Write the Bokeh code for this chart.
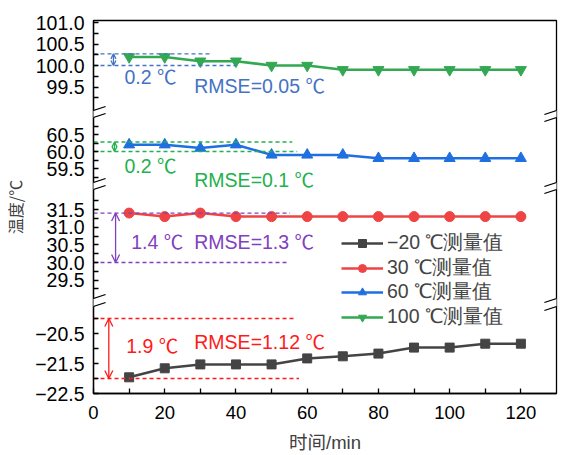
from bokeh.plotting import figure
from bokeh.models import (Range1d, FixedTicker, Arrow, OpenHead, PolyAnnotation,
                          Label, Legend, LegendItem)
from bokeh.embed import file_html
from bokeh.resources import INLINE

# ---------------- data ----------------
time_min = [10, 20, 30, 40, 50, 60, 70, 80, 90, 100, 110, 120]
temp_m20 = [-21.96, -21.66, -21.53, -21.53, -21.53, -21.33, -21.26, -21.17, -20.97, -20.97, -20.84, -20.84]
temp_30 = [31.4, 31.3, 31.4, 31.3, 31.3, 31.3, 31.3, 31.3, 31.3, 31.3, 31.3, 31.3]
temp_60 = [60.2, 60.2, 60.1, 60.2, 59.9, 59.9, 59.9, 59.8, 59.8, 59.8, 59.8, 59.8]
temp_100 = [100.2, 100.2, 100.1, 100.1, 100.0, 100.0, 99.9, 99.9, 99.9, 99.9, 99.9, 99.9]
series_labels = ["−20 ℃测量值", "30 ℃测量值", "60 ℃测量值", "100 ℃测量值"]

x_ticks = [0, 20, 40, 60, 80, 100, 120]
x_minor_ticks = [10, 30, 50, 70, 90, 110]
x_title = "时间/min"
y_title = "温度/℃"

ticks_100 = [99.25, 99.5, 99.75, 100.0, 100.25, 100.5, 100.75, 101.0]
labels_100 = ["99.5", "100.0", "100.5", "101.0"]
ticks_60 = [59.25, 59.5, 59.75, 60.0, 60.25, 60.5, 60.75]
labels_60 = ["59.5", "60.0", "60.5"]
ticks_30 = [29.25, 29.5, 29.75, 30.0, 30.25, 30.5, 30.75, 31.0, 31.25, 31.5, 31.75]
labels_30 = ["29.5", "30.0", "30.5", "31.0", "31.5"]
ticks_m20 = [-22.5, -22.0, -21.5, -21.0, -20.5, -20.0]
labels_m20 = ["-22.5", "-21.5", "-20.5"]

# deviation bands (reference dashed lines) per segment
band_low = [100.0, 60.0, 30.0, -22.0]
band_high = [100.27, 60.28, 31.4, -20.0]
band_text = ["0.2 ℃", "0.2 ℃", "1.4 ℃", "1.9 ℃"]
rmse_text = ["RMSE=0.05 ℃", "RMSE=0.1 ℃", "RMSE=1.3 ℃", "RMSE=1.12 ℃"]

# ---------------- layout / style ----------------
W, H = 565, 455
FL, FR, FT, FB = 92, 9, 20, 62
FH = H - FT - FB  # 373
LATIN = "Liberation Sans"
MIXED = "'Liberation Sans', 'Noto Sans CJK SC'"
CJK = "'Noto Sans CJK SC'"
FS = "19.5px"

seg_names = ["s100", "s60", "s30", "sm20"]
seg_anchor = {"s100": 100.0, "s60": 60.0, "s30": 30.0, "sm20": -22.5}
seg_px = {"s100": 65, "s60": 151, "s30": 262, "sm20": 393}
seg_ppu = {"s100": 43.0, "s60": 34.0, "s30": 35.3, "sm20": 30.0}
gap_px = [(110, 117), (182, 189), (298, 306)]

def v_anchor(s):
    return (FT + FH) - seg_px[s]

p = figure(width=W, height=H, output_backend="svg", toolbar_location=None,
           x_range=Range1d(0, 130), y_range=Range1d(0, FH),
           min_border_left=FL, min_border_right=FR, min_border_top=FT, min_border_bottom=FB)
p.xgrid.visible = False
p.ygrid.visible = False
p.outline_line_color = "black"
p.outline_line_width = 1.3
p.background_fill_color = "white"
p.border_fill_color = "white"

ranges = {}
for s in seg_names:
    va = v_anchor(s)
    ranges[s] = Range1d(start=seg_anchor[s] - va / seg_ppu[s],
                        end=seg_anchor[s] + (FH - va) / seg_ppu[s])
p.extra_y_ranges = ranges

# ----- left axis (broken) -----
seg_ticks = {"s100": (ticks_100, labels_100), "s60": (ticks_60, labels_60),
             "s30": (ticks_30, labels_30), "sm20": (ticks_m20, labels_m20)}
vt = []
overrides = {}
for s in seg_names:
    tks, lbls = seg_ticks[s]
    for t in tks:
        v = round(v_anchor(s) + (t - seg_anchor[s]) * seg_ppu[s], 3)
        vt.append(v)
        txt = f"{t:.1f}"
        overrides[v] = txt.replace("-", "−") if txt in lbls else ""
ya = p.yaxis[0]
ya.ticker = FixedTicker(ticks=vt, minor_ticks=[])
ya.major_label_overrides = overrides
ya.major_tick_in = 5
ya.major_tick_out = 0
ya.minor_tick_in = 0
ya.minor_tick_out = 0
ya.major_tick_line_width = 1.3
ya.axis_line_width = 1.3
ya.major_label_text_font = LATIN
ya.major_label_text_font_size = FS
ya.major_label_text_color = "black"
ya.major_label_standoff = 9
ya.axis_label = y_title
ya.axis_label_text_font = CJK
ya.axis_label_text_font_size = "16px"
ya.axis_label_text_font_style = "normal"
ya.axis_label_text_color = "#404040"
ya.axis_label_standoff = 5

xa = p.xaxis[0]
xa.ticker = FixedTicker(ticks=x_ticks, minor_ticks=x_minor_ticks)
xa.major_tick_in = 5
xa.major_tick_out = 0
xa.minor_tick_in = 5
xa.minor_tick_out = 0
xa.major_tick_line_width = 1.3
xa.minor_tick_line_width = 1.3
xa.minor_tick_line_color = "black"
xa.axis_line_width = 1.3
xa.major_label_text_font = LATIN
xa.major_label_text_font_size = "18.5px"
xa.major_label_text_color = "black"
xa.major_label_standoff = 12
xa.axis_label = x_title
xa.axis_label_text_font = MIXED
xa.axis_label_text_font_size = "18.5px"
xa.axis_label_text_font_style = "normal"
xa.axis_label_text_color = "#404040"
xa.axis_label_standoff = 10

# ----- series -----
series = [
    ("sm20", temp_m20, "#444444", "square", 9),
    ("s30", temp_30, "#ef4444", "circle", 10),
    ("s60", temp_60, "#1f6fe0", "triangle", 11),
    ("s100", temp_100, "#33a852", "inverted_triangle", 11),
]
items = []
for (s, ys, col, mk, sz), lab in zip(series, series_labels):
    lr = p.line(time_min, ys, y_range_name=s, line_color=col, line_width=2.5)
    sr = p.scatter(time_min, ys, y_range_name=s, marker=mk, size=sz,
                   fill_color=col, line_color=col)
    items.append(LegendItem(label=lab, renderers=[lr, sr]))

# ----- deviation bands -----
band_colors = ["#4472c4", "#22b14c", "#8040c0", "#ff1a1a"]
low_end = [40.0, 57.2, 54.4, 57.7]
high_end = [32.8, 55.8, 55.2, 56.6]
arrow_x = [5.6, 5.9, 6.2, 4.3]
head_size = [5, 5, 8, 8]
band_text_x = [8.7, 8.7, 10.6, 9.2]
band_text_y = [99.74, 59.56, 30.57, -20.93]
rmse_x = [28.3, 28.3, 28.3, 28.3]
rmse_y = [99.53, 59.16, 30.57, -20.77]
for i, s in enumerate(seg_names):
    c = band_colors[i]
    p.segment(x0=[0, 0], y0=[band_low[i], band_high[i]], x1=[low_end[i], high_end[i]],
              y1=[band_low[i], band_high[i]], y_range_name=s, line_color=c,
              line_width=1.3, line_dash="4 3")
    p.add_layout(Arrow(start=OpenHead(size=head_size[i], line_color=c, line_width=1.3),
                       end=OpenHead(size=head_size[i], line_color=c, line_width=1.3),
                       x_start=arrow_x[i], x_end=arrow_x[i],
                       y_start=band_low[i], y_end=band_high[i], y_range_name=s,
                       line_color=c, line_width=1.3))
    p.add_layout(Label(x=band_text_x[i], y=band_text_y[i], y_range_name=s, text=band_text[i],
                       text_color=c, text_font=MIXED, text_font_size=FS,
                       text_baseline="middle", text_align="left"))
    p.add_layout(Label(x=rmse_x[i], y=rmse_y[i], y_range_name=s, text=rmse_text[i],
                       text_color=c, text_font=MIXED, text_font_size=FS,
                       text_baseline="middle", text_align="left"))

# ----- axis break marks -----
HW = 3.4  # half width in x units
HR = 4.0  # half rise in px
for (a, b) in gap_px:
    va, vb = (FT + FH) - a, (FT + FH) - b
    for xc in (0, 130):
        p.add_layout(PolyAnnotation(xs=[xc - HW, xc + HW, xc + HW, xc - HW],
                                    ys=[va - HR, va + HR, vb + HR, vb - HR],
                                    fill_color="white", fill_alpha=1.0, line_color=None,
                                    level="overlay"))
        for vv in (va, vb):
            p.add_layout(Arrow(end=None, x_start=xc - HW, x_end=xc + HW,
                               y_start=vv - HR, y_end=vv + HR,
                               line_color="black", line_width=1.3, level="overlay"))

# legend: one entry per row, each placed at its own row position
row_center_px = [243, 268, 292, 317]
HALF_ROW = 13.3
for item, cy in zip(items, row_center_px):
    lg = Legend(items=[item], location=(248, round((FT + FH) - cy - HALF_ROW, 1)),
                padding=0, margin=0, spacing=0,
                glyph_width=42, glyph_height=20, label_height=20, label_standoff=4,
                label_text_font=LATIN, label_text_font_size=FS,
                border_line_color=None, background_fill_alpha=0)
    p.add_layout(lg)

open("out.html", "w").write(file_html(p, INLINE))
